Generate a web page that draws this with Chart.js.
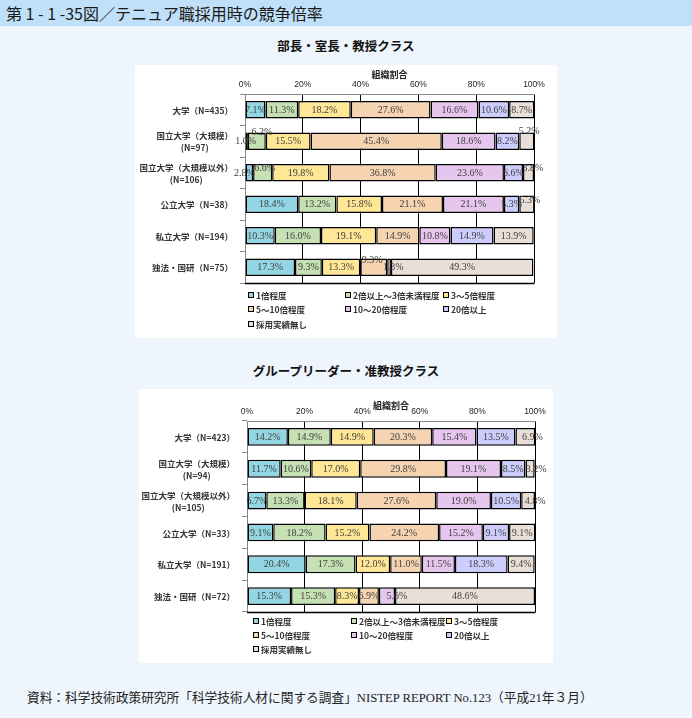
<!DOCTYPE html>
<html>
<head>
<meta charset="utf-8">
<script src="https://cdn.jsdelivr.net/npm/chart.js@4.4.1/dist/chart.umd.min.js"></script>
<style>
html, body { margin: 0; padding: 0; }
body { width: 692px; height: 718px; background: #eef5fc; position: relative; overflow: hidden; font-family: "Noto Sans CJK JP", sans-serif; }
#head { position: absolute; left: 0; top: 0; width: 692px; height: 26px; background: #bfe0f8; }
#head span { position: absolute; left: 6px; top: 2px; font-size: 16px; line-height: 22px; color: #1a1a1a; white-space: nowrap; }
.sub { position: absolute; left: 0; width: 692px; text-align: center; font-size: 12.5px; line-height: 16px; font-weight: bold; color: #111; }
.panel { position: absolute; background: #fff; }
#src { position: absolute; left: 27px; top: 690px; font-size: 12.7px; line-height: 16px; font-family: "Liberation Serif", "Noto Sans CJK JP", serif; color: #222; white-space: nowrap; }
</style>
</head>
<body>
<div id="head"><span>第 1 - 1 -35図／テニュア職採用時の競争倍率</span></div>
<div class="sub" style="top:38px;">部長・室長・教授クラス</div>
<div class="panel" style="left:135px;top:65px;width:422px;height:273px;"><canvas id="profChart" width="422" height="273"></canvas></div>
<div class="sub" style="top:363px;">グループリーダー・准教授クラス</div>
<div class="panel" style="left:139px;top:389px;width:414px;height:274px;"><canvas id="glChart" width="414" height="274"></canvas></div>
<div id="src">資料：科学技術政策研究所「科学技術人材に関する調査」NISTEP REPORT No.123（平成21年３月）</div>

<script>
// --- DATA ---
const seriesNames = ['1倍程度', '2倍以上～3倍未満程度', '3～5倍程度', '5～10倍程度', '10～20倍程度', '20倍以上', '採用実績無し'];
const tickStep = 20;

// 部長・室長・教授クラス
const profCats = [['大学（N=435）'], ['国立大学（大規模）', '(N=97)'], ['国立大学（大規模以外）', '(N=106)'], ['公立大学（N=38）'], ['私立大学（N=194）'], ['独法・国研（N=75）']];
const prof_x1      = [7.1, 1.0, 2.8, 18.4, 10.3, 17.3];
const prof_x2to3   = [11.3, 6.2, 6.6, 13.2, 16.0, 9.3];
const prof_x3to5   = [18.2, 15.5, 19.8, 15.8, 19.1, 13.3];
const prof_x5to10  = [27.6, 45.4, 36.8, 21.1, 14.9, 9.3];
const prof_x10to20 = [16.6, 18.6, 23.6, 21.1, 10.8, 1.3];
const prof_x20plus = [10.6, 8.2, 6.6, 5.3, 14.9, 0];
const prof_none    = [8.7, 5.2, 3.8, 5.3, 13.9, 49.3];

// グループリーダー・准教授クラス
const glCats = [['大学（N=423）'], ['国立大学（大規模）', '(N=94)'], ['国立大学（大規模以外）', '(N=105)'], ['公立大学（N=33）'], ['私立大学（N=191）'], ['独法・国研（N=72）']];
const gl_x1      = [14.2, 11.7, 6.7, 9.1, 20.4, 15.3];
const gl_x2to3   = [14.9, 10.6, 13.3, 18.2, 17.3, 15.3];
const gl_x3to5   = [14.9, 17.0, 18.1, 15.2, 12.0, 8.3];
const gl_x5to10  = [20.3, 29.8, 27.6, 24.2, 11.0, 6.9];
const gl_x10to20 = [15.4, 19.1, 19.0, 15.2, 11.5, 5.6];
const gl_x20plus = [13.5, 8.5, 10.5, 9.1, 18.3, 0];
const gl_none    = [6.9, 3.2, 4.8, 9.1, 9.4, 48.6];

// --- STYLE ---
const segColors = ['#93d6e3', '#c5e0b3', '#ffe796', '#f6d4b2', '#e6c6ee', '#cdcdfd', '#e9dfd8'];

// labels, category names, legend and bottom rule
const decor = {
    id: 'decor',
    afterDraw(chart, args, opts) {
        const ctx = chart.ctx;
        const area = chart.chartArea;
        ctx.save();

        ctx.strokeStyle = '#000';
        ctx.lineWidth = 1.5;
        ctx.beginPath();
        ctx.moveTo(area.left, Math.round(area.bottom) + 0.5);
        ctx.lineTo(area.right + 0.5, Math.round(area.bottom) + 0.5);
        ctx.stroke();
        ctx.lineWidth = 1;

        // value labels
        ctx.font = '10px "Liberation Serif", serif';
        ctx.fillStyle = '#404040';
        ctx.textAlign = 'center';
        ctx.textBaseline = 'middle';
        chart.data.datasets.forEach((ds, di) => {
            chart.getDatasetMeta(di).data.forEach((bar, i) => {
                const v = ds.data[i];
                if (!v) return;
                const p = bar.getProps(['x', 'y', 'base'], true);
                const n = (opts.nudges || {})[i + ',' + di] || [0, 0];
                ctx.fillText(v.toFixed(1) + '%', (p.x + p.base) / 2 + n[0], p.y + 0.5 + n[1]);
            });
        });

        // category labels
        const ys = chart.scales.y;
        ctx.font = 'bold 8.5px "Noto Sans CJK JP"';
        ctx.fillStyle = '#333';
        const xr = area.left - 12;
        chart.data.labels.forEach((lab, i) => {
            const cy = ys.getPixelForValue(i);
            ctx.textAlign = 'right';
            if (lab.length === 1) {
                ctx.fillText(lab[0], xr, cy + 1);
            } else {
                const w = ctx.measureText(lab[0]).width;
                ctx.fillText(lab[0], xr, cy - 5);
                ctx.textAlign = 'center';
                ctx.fillText(lab[1], xr - w / 2, cy + 7);
            }
        });

        // legend
        ctx.textAlign = 'left';
        chart.data.datasets.forEach((ds, k) => {
            const x = Math.round(area.left + opts.legendX[k % 3]);
            const y = Math.round(area.bottom + opts.legendY[Math.floor(k / 3)]);
            ctx.fillStyle = ds.backgroundColor;
            ctx.fillRect(x, y - 3, 6, 6);
            ctx.strokeStyle = '#000';
            ctx.strokeRect(x + 0.5, y - 2.5, 5, 5);
            ctx.fillStyle = '#333';
            ctx.fillText(ds.label, x + 8, y + 0.5);
        });
        ctx.restore();
    }
};

function buildChart(id, cats, series, opt) {
    return new Chart(document.getElementById(id), {
        type: 'bar',
        data: {
            labels: cats,
            datasets: series.map((d, k) => ({
                label: seriesNames[k], data: d,
                backgroundColor: segColors[k], borderColor: '#000', borderWidth: 1.5, borderSkipped: false,
                barPercentage: 0.56, categoryPercentage: 1
            }))
        },
        options: {
            indexAxis: 'y', responsive: false, animation: false,
            layout: { padding: { top: opt.padTop, right: opt.padRight, bottom: opt.padBottom, left: 0 } },
            plugins: {
                legend: { display: false }, tooltip: { enabled: false },
                decor: { nudges: opt.nudges, legendX: opt.legendX, legendY: opt.legendY }
            },
            scales: {
                x: {
                    position: 'top', stacked: true, min: 0, max: 100,
                    afterFit: s => { s.height = opt.xHeight; },
                    ticks: { stepSize: tickStep, padding: 4, color: '#222', font: { size: 8.5, family: 'Liberation Sans' }, callback: v => v + '%' },
                    grid: { color: '#000', drawTicks: false },
                    border: { color: '#888' },
                    title: { display: true, text: '組織割合', color: '#222', font: { size: 9, weight: 'bold', family: 'Noto Sans CJK JP' }, padding: { top: 4, bottom: 0 } }
                },
                y: {
                    stacked: true,
                    afterFit: s => { s.width = opt.yWidth; },
                    ticks: { display: false },
                    grid: { drawOnChartArea: false, tickLength: 5, color: '#888' },
                    border: { color: '#888' }
                }
            }
        },
        plugins: [decor]
    });
}

buildChart('profChart', profCats,
    [prof_x1, prof_x2to3, prof_x3to5, prof_x5to10, prof_x10to20, prof_x20plus, prof_none],
    {
        padTop: 0, padRight: 23, padBottom: 55, xHeight: 29, yWidth: 110,
        legendX: [3, 100, 198], legendY: [12, 26, 40.5],
        nudges: { '1,0': [-1, 0], '1,1': [5, -9.5], '1,6': [2.5, -10], '2,0': [-5, 0], '2,1': [2, -5], '2,6': [4.5, -5], '3,6': [3, -4.5], '5,3': [-1.5, -7], '5,4': [4, 0] }
    });

buildChart('glChart', glCats,
    [gl_x1, gl_x2to3, gl_x3to5, gl_x5to10, gl_x10to20, gl_x20plus, gl_none],
    {
        padTop: 7.6, padRight: 18, padBottom: 51, xHeight: 24.4, yWidth: 108,
        legendX: [6, 104, 199], legendY: [9, 23, 37],
        nudges: { '0,6': [7, 0], '1,6': [6, 0], '2,6': [7, 0], '5,4': [10, 0] }
    });
</script>
</body>
</html>
